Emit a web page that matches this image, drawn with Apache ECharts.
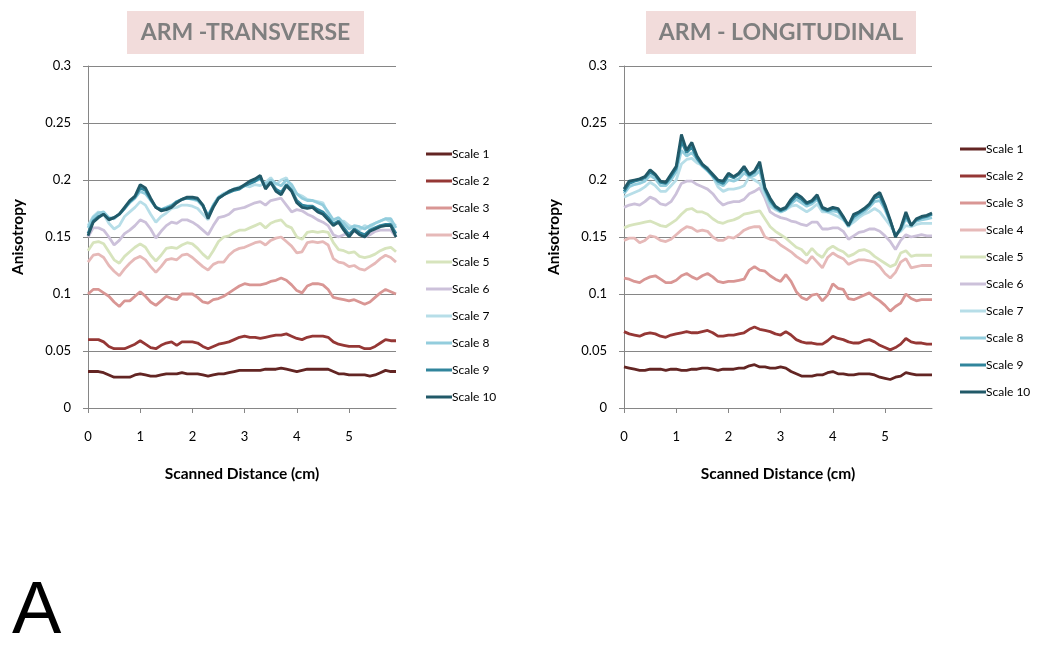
<!DOCTYPE html>
<html>
<head>
<meta charset="utf-8">
<script src="https://cdn.jsdelivr.net/npm/echarts@6/dist/echarts.min.js"></script>
<style>
html,body{margin:0;padding:0;background:#fff;}
#chart{width:1050px;height:652px;}
</style>
</head>
<body>
<div id="chart"></div>
<script>
const distance = [0,0.1,0.2,0.3,0.4,0.5,0.6,0.7,0.8,0.9,1,1.1,1.2,1.3,1.4,1.5,1.6,1.7,1.8,1.9,2,2.1,2.2,2.3,2.4,2.5,2.6,2.7,2.8,2.9,3,3.1,3.2,3.3,3.4,3.5,3.6,3.7,3.8,3.9,4,4.1,4.2,4.3,4.4,4.5,4.6,4.7,4.8,4.9,5,5.1,5.2,5.3,5.4,5.5,5.6,5.7,5.8,5.9];
const scaleNames = ['Scale 1','Scale 2','Scale 3','Scale 4','Scale 5','Scale 6','Scale 7','Scale 8','Scale 9','Scale 10'];
const panelTitles = ['ARM -TRANSVERSE','ARM - LONGITUDINAL'];
const yTicks = [0,0.05,0.1,0.15,0.2,0.25,0.3];
const xTicks = [0,1,2,3,4,5];

// ARM - TRANSVERSE
const trans1 = [0.032,0.032,0.032,0.031,0.029,0.027,0.027,0.027,0.027,0.029,0.030,0.029,0.028,0.028,0.029,0.030,0.030,0.030,0.031,0.030,0.030,0.030,0.029,0.028,0.029,0.030,0.030,0.031,0.032,0.033,0.033,0.033,0.033,0.033,0.034,0.034,0.034,0.035,0.034,0.033,0.032,0.033,0.034,0.034,0.034,0.034,0.034,0.032,0.030,0.030,0.029,0.029,0.029,0.029,0.028,0.029,0.031,0.033,0.032,0.032];
const trans2 = [0.060,0.060,0.060,0.058,0.054,0.052,0.052,0.052,0.054,0.056,0.059,0.056,0.053,0.052,0.055,0.057,0.058,0.055,0.058,0.058,0.058,0.057,0.054,0.052,0.054,0.056,0.057,0.058,0.060,0.062,0.063,0.062,0.062,0.061,0.062,0.063,0.064,0.064,0.065,0.063,0.061,0.060,0.062,0.063,0.063,0.063,0.062,0.058,0.056,0.055,0.054,0.054,0.054,0.052,0.052,0.054,0.057,0.060,0.059,0.059];
const trans3 = [0.100,0.104,0.104,0.101,0.098,0.093,0.089,0.094,0.094,0.098,0.102,0.098,0.093,0.090,0.094,0.098,0.096,0.095,0.100,0.100,0.100,0.097,0.093,0.092,0.095,0.096,0.098,0.101,0.104,0.107,0.109,0.108,0.108,0.108,0.109,0.111,0.112,0.114,0.112,0.108,0.103,0.101,0.107,0.109,0.109,0.108,0.104,0.097,0.096,0.095,0.094,0.095,0.093,0.091,0.093,0.097,0.101,0.104,0.102,0.100];
const trans4 = [0.128,0.134,0.135,0.132,0.125,0.120,0.116,0.122,0.127,0.131,0.133,0.130,0.124,0.119,0.124,0.130,0.131,0.130,0.134,0.135,0.132,0.128,0.124,0.121,0.126,0.128,0.128,0.134,0.138,0.140,0.141,0.143,0.145,0.146,0.143,0.147,0.149,0.150,0.146,0.142,0.136,0.137,0.145,0.146,0.145,0.146,0.143,0.131,0.128,0.127,0.124,0.125,0.122,0.121,0.124,0.127,0.131,0.134,0.132,0.128];
const trans5 = [0.138,0.145,0.146,0.144,0.137,0.130,0.127,0.133,0.137,0.141,0.144,0.141,0.134,0.129,0.134,0.140,0.141,0.140,0.143,0.145,0.144,0.140,0.135,0.131,0.138,0.146,0.150,0.151,0.154,0.156,0.156,0.158,0.160,0.162,0.158,0.162,0.164,0.165,0.160,0.158,0.150,0.148,0.154,0.155,0.154,0.155,0.154,0.145,0.139,0.138,0.136,0.137,0.133,0.132,0.133,0.135,0.138,0.140,0.141,0.137];
const trans6 = [0.150,0.158,0.158,0.156,0.150,0.143,0.147,0.153,0.156,0.160,0.165,0.163,0.157,0.149,0.155,0.160,0.163,0.162,0.165,0.165,0.163,0.160,0.156,0.152,0.160,0.167,0.168,0.170,0.174,0.175,0.176,0.178,0.180,0.181,0.178,0.182,0.183,0.184,0.178,0.172,0.174,0.173,0.170,0.168,0.165,0.163,0.160,0.152,0.150,0.152,0.153,0.155,0.153,0.150,0.152,0.155,0.156,0.156,0.156,0.150];
const trans7 = [0.160,0.168,0.172,0.170,0.162,0.157,0.160,0.168,0.172,0.176,0.181,0.178,0.170,0.163,0.168,0.171,0.175,0.176,0.178,0.178,0.177,0.175,0.170,0.165,0.178,0.185,0.188,0.190,0.192,0.194,0.195,0.194,0.196,0.195,0.198,0.202,0.196,0.200,0.202,0.192,0.188,0.186,0.183,0.182,0.181,0.180,0.170,0.163,0.162,0.164,0.160,0.158,0.156,0.160,0.158,0.162,0.164,0.166,0.163,0.160];
const trans8 = [0.158,0.167,0.171,0.172,0.167,0.166,0.170,0.175,0.180,0.184,0.190,0.188,0.182,0.176,0.174,0.176,0.178,0.181,0.183,0.184,0.183,0.182,0.177,0.169,0.178,0.185,0.188,0.190,0.192,0.193,0.195,0.197,0.199,0.201,0.196,0.200,0.197,0.195,0.200,0.196,0.188,0.184,0.182,0.182,0.180,0.178,0.172,0.165,0.167,0.162,0.157,0.160,0.159,0.157,0.160,0.162,0.164,0.166,0.166,0.158];
const trans9 = [0.153,0.164,0.168,0.170,0.166,0.167,0.170,0.175,0.181,0.185,0.193,0.191,0.183,0.176,0.174,0.175,0.177,0.181,0.183,0.184,0.184,0.183,0.178,0.168,0.177,0.184,0.187,0.189,0.191,0.192,0.195,0.197,0.199,0.202,0.193,0.198,0.192,0.189,0.196,0.191,0.182,0.178,0.177,0.177,0.174,0.172,0.167,0.161,0.164,0.158,0.152,0.157,0.154,0.152,0.156,0.158,0.160,0.161,0.161,0.153];
const trans10 = [0.151,0.163,0.167,0.170,0.165,0.167,0.170,0.176,0.182,0.186,0.196,0.193,0.184,0.176,0.173,0.174,0.176,0.180,0.183,0.185,0.185,0.184,0.178,0.166,0.176,0.184,0.187,0.190,0.192,0.193,0.196,0.199,0.201,0.204,0.192,0.198,0.190,0.187,0.195,0.190,0.180,0.176,0.175,0.176,0.172,0.170,0.165,0.160,0.163,0.156,0.150,0.156,0.152,0.150,0.155,0.157,0.159,0.160,0.160,0.150];

// ARM - LONGITUDINAL
const long1 = [0.036,0.035,0.034,0.033,0.033,0.034,0.034,0.034,0.033,0.034,0.034,0.033,0.033,0.034,0.034,0.035,0.035,0.034,0.033,0.034,0.034,0.034,0.035,0.035,0.037,0.038,0.036,0.036,0.035,0.035,0.036,0.035,0.032,0.030,0.028,0.028,0.028,0.029,0.029,0.031,0.032,0.030,0.030,0.029,0.029,0.030,0.030,0.030,0.029,0.027,0.026,0.025,0.027,0.028,0.031,0.030,0.029,0.029,0.029,0.029];
const long2 = [0.067,0.065,0.064,0.063,0.065,0.066,0.065,0.063,0.062,0.064,0.065,0.066,0.067,0.066,0.066,0.067,0.068,0.066,0.063,0.063,0.064,0.064,0.065,0.066,0.069,0.071,0.069,0.068,0.067,0.065,0.064,0.067,0.064,0.060,0.058,0.057,0.057,0.056,0.056,0.059,0.063,0.061,0.060,0.058,0.057,0.057,0.059,0.060,0.058,0.055,0.053,0.051,0.053,0.056,0.061,0.058,0.057,0.057,0.056,0.056];
const long3 = [0.114,0.113,0.111,0.110,0.113,0.115,0.116,0.113,0.110,0.110,0.112,0.116,0.118,0.115,0.113,0.116,0.118,0.115,0.111,0.110,0.111,0.111,0.112,0.113,0.121,0.124,0.121,0.120,0.116,0.113,0.111,0.117,0.111,0.102,0.097,0.095,0.099,0.100,0.094,0.099,0.109,0.105,0.104,0.096,0.095,0.097,0.099,0.101,0.097,0.094,0.090,0.085,0.089,0.092,0.100,0.096,0.094,0.095,0.095,0.095];
const long4 = [0.147,0.149,0.149,0.145,0.147,0.151,0.150,0.147,0.146,0.148,0.152,0.156,0.159,0.158,0.155,0.156,0.155,0.150,0.147,0.147,0.150,0.149,0.152,0.156,0.158,0.159,0.159,0.150,0.148,0.147,0.143,0.140,0.137,0.133,0.130,0.127,0.133,0.128,0.123,0.132,0.136,0.133,0.131,0.126,0.128,0.130,0.130,0.129,0.128,0.124,0.118,0.114,0.119,0.128,0.131,0.123,0.124,0.125,0.125,0.125];
const long5 = [0.158,0.160,0.161,0.162,0.163,0.164,0.162,0.160,0.159,0.162,0.165,0.170,0.174,0.175,0.172,0.172,0.170,0.166,0.163,0.162,0.164,0.165,0.167,0.170,0.171,0.172,0.173,0.166,0.159,0.155,0.152,0.149,0.145,0.141,0.139,0.134,0.140,0.135,0.132,0.139,0.142,0.139,0.137,0.133,0.135,0.138,0.139,0.137,0.133,0.130,0.127,0.124,0.126,0.136,0.138,0.133,0.134,0.134,0.134,0.134];
const long6 = [0.176,0.178,0.179,0.178,0.181,0.185,0.183,0.179,0.178,0.181,0.188,0.197,0.199,0.199,0.196,0.194,0.192,0.188,0.182,0.178,0.180,0.181,0.181,0.183,0.188,0.190,0.193,0.184,0.172,0.169,0.167,0.166,0.164,0.163,0.161,0.160,0.163,0.163,0.157,0.157,0.158,0.158,0.155,0.148,0.151,0.154,0.155,0.157,0.157,0.155,0.151,0.146,0.139,0.147,0.152,0.150,0.151,0.152,0.151,0.151];
const long7 = [0.185,0.187,0.189,0.191,0.194,0.198,0.195,0.190,0.190,0.195,0.200,0.214,0.218,0.219,0.215,0.213,0.211,0.203,0.194,0.190,0.192,0.192,0.193,0.195,0.203,0.200,0.197,0.187,0.177,0.174,0.172,0.174,0.177,0.178,0.175,0.172,0.175,0.179,0.172,0.172,0.170,0.168,0.165,0.160,0.163,0.167,0.170,0.172,0.175,0.172,0.166,0.160,0.152,0.155,0.160,0.159,0.161,0.162,0.162,0.162];
const long8 = [0.188,0.194,0.196,0.197,0.199,0.204,0.201,0.195,0.195,0.200,0.207,0.226,0.221,0.224,0.218,0.212,0.208,0.203,0.197,0.195,0.200,0.199,0.201,0.206,0.203,0.204,0.208,0.190,0.180,0.175,0.172,0.174,0.179,0.183,0.180,0.177,0.179,0.183,0.174,0.172,0.173,0.172,0.166,0.159,0.166,0.169,0.172,0.176,0.181,0.182,0.174,0.163,0.152,0.156,0.166,0.161,0.164,0.165,0.166,0.167];
const long9 = [0.190,0.197,0.199,0.200,0.202,0.207,0.204,0.198,0.197,0.203,0.210,0.234,0.224,0.229,0.219,0.213,0.209,0.204,0.199,0.197,0.204,0.202,0.205,0.210,0.204,0.207,0.213,0.192,0.182,0.176,0.173,0.175,0.181,0.186,0.183,0.179,0.181,0.185,0.175,0.173,0.175,0.174,0.167,0.160,0.168,0.171,0.174,0.178,0.184,0.186,0.176,0.164,0.151,0.157,0.169,0.160,0.165,0.167,0.168,0.170];
const long10 = [0.192,0.199,0.200,0.201,0.203,0.209,0.205,0.199,0.198,0.205,0.212,0.240,0.226,0.233,0.221,0.214,0.210,0.205,0.200,0.199,0.206,0.203,0.206,0.212,0.205,0.208,0.216,0.193,0.184,0.177,0.174,0.176,0.183,0.188,0.185,0.180,0.182,0.187,0.176,0.174,0.176,0.175,0.168,0.160,0.170,0.172,0.175,0.179,0.186,0.189,0.178,0.165,0.150,0.158,0.172,0.160,0.166,0.168,0.169,0.171];

const transverse = [trans1,trans2,trans3,trans4,trans5,trans6,trans7,trans8,trans9,trans10];
const longitudinal = [long1,long2,long3,long4,long5,long6,long7,long8,long9,long10];
const colors = ['#632523','#953735','#D99694','#E6B9B8','#D7E4BD','#CCC1DA','#B7DEE8','#93CDDD','#31859C','#215968'];

const FONT = 'Lato, "Open Sans", sans-serif';
const AXIS_COLOR = '#868686';

function makeX(idx) {
  return {
    type: 'value', gridIndex: idx, min: 0, max: 5.9, interval: 1,
    name: 'Scanned Distance (cm)', nameLocation: 'middle', nameGap: 58,
    nameTextStyle: {fontFamily: FONT, fontSize: 15.5, fontWeight: 'bold', color: '#000'},
    axisLine: {show: true, onZero: false, lineStyle: {color: AXIS_COLOR, width: 1}},
    axisTick: {show: true, inside: false, length: 5, customValues: xTicks, lineStyle: {color: AXIS_COLOR}},
    axisLabel: {customValues: xTicks, margin: 22, fontFamily: FONT, fontSize: 13, color: '#000'},
    splitLine: {show: false}
  };
}
function makeY(idx) {
  return {
    type: 'value', gridIndex: idx, min: 0, max: 0.3, interval: 0.05,
    name: 'Anisotropy', nameLocation: 'middle', nameGap: 62, nameRotate: 90,
    nameTextStyle: {fontFamily: FONT, fontSize: 15.5, fontWeight: 'bold', color: '#000'},
    axisLine: {show: true, lineStyle: {color: AXIS_COLOR, width: 1}},
    axisTick: {show: true, inside: false, length: 5, lineStyle: {color: AXIS_COLOR}},
    axisLabel: {margin: 17, fontFamily: FONT, fontSize: 13, color: '#000',
      formatter: v => String(+v.toFixed(2))},
    splitLine: {show: true, lineStyle: {color: AXIS_COLOR, width: 1}}
  };
}

const series = [];
[transverse, longitudinal].forEach((panel, p) => {
  panel.forEach((vals, i) => {
    series.push({
      name: scaleNames[i], type: 'line', xAxisIndex: p, yAxisIndex: p,
      data: distance.map((d, k) => [d, vals[k]]),
      showSymbol: false, symbol: 'none', smooth: false,
      lineStyle: {width: 2.8, color: colors[i]},
      itemStyle: {color: colors[i]},
      emphasis: {disabled: true}, silent: true, z: 2 + i
    });
  });
});

function makeLegend(left, top) {
  return {
    orient: 'vertical', left: left, top: top, icon: 'rect',
    itemWidth: 26, itemHeight: 3, itemGap: 13,
    data: scaleNames, selectedMode: false,
    textStyle: {fontFamily: FONT, fontSize: 12, color: '#000', padding: [0,0,0,-5], lineHeight: 14}
  };
}

const option = {
  animation: false,
  backgroundColor: '#ffffff',
  color: colors,
  grid: [
    {left: 88, top: 66, width: 308, height: 342},
    {left: 624, top: 66, width: 308, height: 342}
  ],
  xAxis: [makeX(0), makeX(1)],
  yAxis: [makeY(0), makeY(1)],
  legend: [makeLegend(421, 142), makeLegend(955, 137)],
  series: series,
  graphic: [
    {type: 'rect', left: 127, top: 11, shape: {width: 237, height: 43}, style: {fill: '#F2DCDB'}, silent: true},
    {type: 'text', x: 245.5, y: 33, style: {text: panelTitles[0], fill: '#7F7F7F', font: 'bold 23px ' + FONT, textAlign: 'center', textVerticalAlign: 'middle'}, silent: true},
    {type: 'rect', left: 646, top: 11, shape: {width: 270, height: 43}, style: {fill: '#F2DCDB'}, silent: true},
    {type: 'text', x: 781, y: 33, style: {text: panelTitles[1], fill: '#7F7F7F', font: 'bold 23px ' + FONT, textAlign: 'center', textVerticalAlign: 'middle'}, silent: true},
    {type: 'text', x: 12, y: 576, style: {text: 'A', fill: '#000', font: '74px "Liberation Sans", Arial, sans-serif'}, silent: true}
  ]
};

const chart = echarts.init(document.getElementById('chart'), null, {renderer: 'canvas'});
chart.setOption(option);
</script>
</body>
</html>
